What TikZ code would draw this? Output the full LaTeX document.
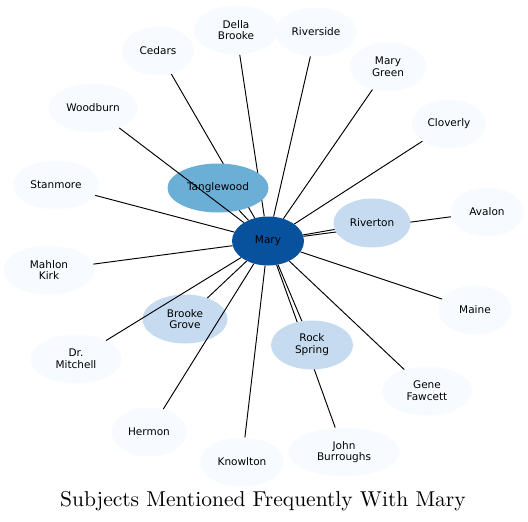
\documentclass[tikz,border=0pt]{standalone}
\usepackage{fontspec}
\setsansfont{DejaVu Sans}
\newfontfamily\titlefont{lmroman10-regular.otf}
\usetikzlibrary{shapes.geometric,backgrounds}
\definecolor{darkblue}{HTML}{08519C}
\definecolor{midblue}{HTML}{6BAED6}
\definecolor{paleblue}{HTML}{C6DBEF}
\definecolor{faintblue}{HTML}{F7FBFF}

\begin{document}
\begin{tikzpicture}[x=1pt,y=-1pt,
    place/.style={ellipse,inner sep=0pt,minimum height=49pt,align=center,
      font=\sffamily\fontsize{10.5}{11.8}\selectfont},
    outer/.style={place,fill=faintblue},
    inner/.style={place,fill=paleblue},
    link/.style={line width=0.95pt}]
  \useasboundingbox (0,0) rectangle (528,522);
  % centre
  \node[place,fill=darkblue,minimum width=72pt] (mary) at (268,241) {Mary};
  \node[place,fill=midblue,minimum width=101pt] (tanglewood) at (218,188) {Tanglewood};
  \node[inner,minimum width=77pt] (riverton) at (372,223) {Riverton};
  \node[inner,minimum width=85pt] (brookegrove) at (185,319) {Brooke\\Grove};
  \node[inner,minimum width=82pt] (rockspring) at (312,345) {Rock\\Spring};
  % ring
  \node[outer,minimum width=85pt] (dellabrooke) at (236,30) {Della\\Brooke};
  \node[outer,minimum width=81pt] (riverside) at (316,32) {Riverside};
  \node[outer,minimum width=72pt] (cedars) at (158,51) {Cedars};
  \node[outer,minimum width=77pt] (marygreen) at (388,67) {Mary\\Green};
  \node[outer,minimum width=89pt] (woodburn) at (93,108) {Woodburn};
  \node[outer,minimum width=74pt] (cloverly) at (449,124) {Cloverly};
  \node[outer,minimum width=86pt] (stanmore) at (56,185) {Stanmore};
  \node[outer,minimum width=73pt] (avalon) at (487,212) {Avalon};
  \node[outer,minimum width=91pt] (mahlonkirk) at (49,270) {Mahlon\\Kirk};
  \node[outer,minimum width=73pt] (maine) at (475,310) {Maine};
  \node[outer,minimum width=91pt] (drmitchell) at (76,359) {Dr.\\Mitchell};
  \node[outer,minimum width=90pt] (genefawcett) at (427,391) {Gene\\Fawcett};
  \node[outer,minimum width=75pt] (hermon) at (149,432) {Hermon};
  \node[outer,minimum width=84pt] (knowlton) at (242,462) {Knowlton};
  \node[outer,minimum width=112pt] (johnburroughs) at (344,452) {John\\Burroughs};
  \node (title) at (263,501) {\titlefont\fontsize{21.5}{24}\selectfont Subjects Mentioned Frequently With Mary};
  % links hidden under other nodes
  \begin{pgfonlayer}{background}
    \draw[link] (mary) -- (cedars);
    \draw[link] (mary) -- (dellabrooke);
    \draw[link] (mary) -- (avalon);
    \draw[link] (mary) -- (johnburroughs);
  \end{pgfonlayer}
  % links
  \foreach \n in {tanglewood,riverton,brookegrove,rockspring,riverside,marygreen,
      woodburn,cloverly,stanmore,mahlonkirk,maine,drmitchell,genefawcett,hermon,knowlton}
    \draw[link] (mary) -- (\n);
\end{tikzpicture}
\end{document}
